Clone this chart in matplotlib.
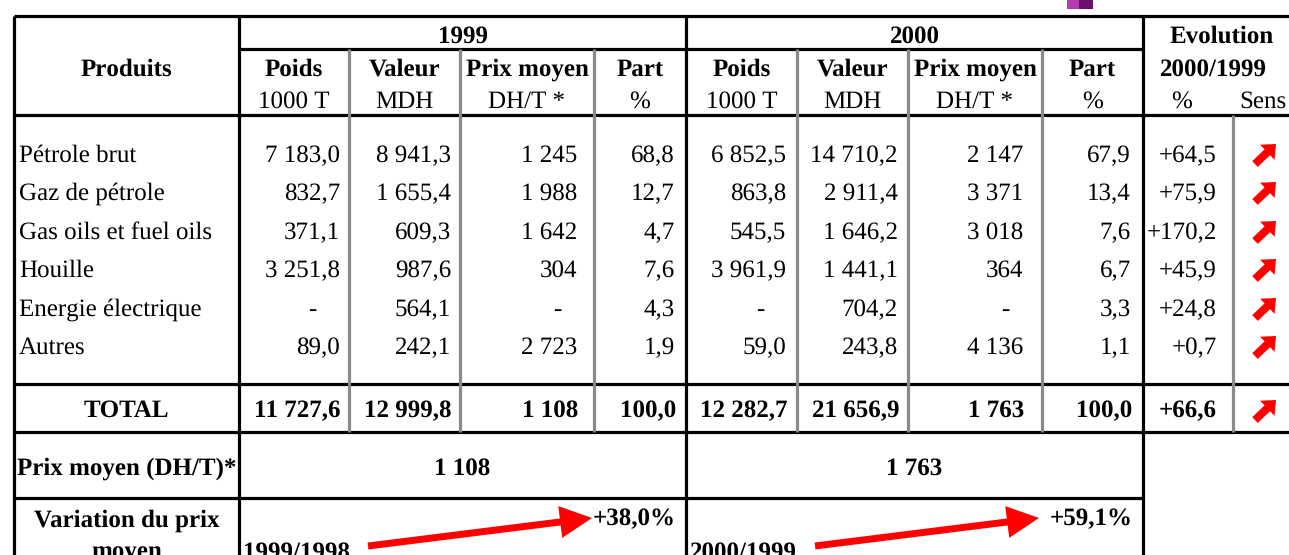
import matplotlib.pyplot as plt
from matplotlib.patches import FancyArrow, Rectangle

plt.rcParams['font.family'] = ['Liberation Serif', 'DejaVu Serif']
plt.rcParams['text.hinting'] = 'no_hinting'
plt.rcParams['text.hinting_factor'] = 1

# donnees du tableau
produits = ['Pétrole brut', 'Gaz de pétrole', 'Gas oils et fuel oils', 'Houille',
            'Energie électrique', 'Autres']
poids_1999 = [7183.0, 832.7, 371.1, 3251.8, None, 89.0]
valeur_1999 = [8941.3, 1655.4, 609.3, 987.6, 564.1, 242.1]
prix_1999 = [1245, 1988, 1642, 304, None, 2723]
part_1999 = [68.8, 12.7, 4.7, 7.6, 4.3, 1.9]
poids_2000 = [6852.5, 863.8, 545.5, 3961.9, None, 59.0]
valeur_2000 = [14710.2, 2911.4, 1646.2, 1441.1, 704.2, 243.8]
prix_2000 = [2147, 3371, 3018, 364, None, 4136]
part_2000 = [67.9, 13.4, 7.6, 6.7, 3.3, 1.1]
evolution = [64.5, 75.9, 170.2, 45.9, 24.8, 0.7]

total_1999 = [11727.6, 12999.8, 1108, 100.0]
total_2000 = [12282.7, 21656.9, 1763, 100.0]
total_evolution = 66.6

annees = ['1999', '2000']
sous_titres = ['Poids', 'Valeur', 'Prix moyen', 'Part']
unites = ['1000 T', 'MDH', 'DH/T *', '%']
prix_moyen = [1108, 1763]
variation_prix = [38.0, 59.1]
periodes = ['1999/1998', '2000/1999']


def fmt(v, dec):
    if v is None:
        return '-'
    s = f'{v:,.{dec}f}'
    return s.replace(',', ' ').replace('.', ',')


fig = plt.figure(figsize=(12.89, 5.55), dpi=100)
ax = fig.add_axes([0, 0, 1, 1])
ax.set_xlim(0, 1289)
ax.set_ylim(555, 0)
ax.axis('off')

FS = 18
NOIR = dict(color='black', lw=2.3, solid_capstyle='butt')
GRIS = dict(color='#8a8a8a', lw=2.3, solid_capstyle='butt')

# limites des colonnes (pixels)
xs = [239, 349, 460, 594, 686, 797, 908, 1042, 1143]
x_left, x_sens, x_right = 14, 1233, 1300
y_top, y_an, y_head, y_tot, y_tot2, y_pm = 16, 49, 115, 384, 432, 498

# traits horizontaux
ax.plot([x_left, x_right], [y_top, y_top], **NOIR)
ax.plot([xs[0], xs[-1]], [y_an, y_an], **NOIR)
ax.plot([x_left, x_right], [y_head, y_head], **NOIR)
ax.plot([x_left, x_right], [y_tot, y_tot], **NOIR)
ax.plot([x_left, x_right], [y_tot2, y_tot2], **NOIR)
ax.plot([x_left, xs[-1]], [y_pm, y_pm], **NOIR)

# traits verticaux
for x in [x_left, xs[0], xs[4], xs[8]]:
    ax.plot([x, x], [y_top, 560], **NOIR)
for x in [xs[1], xs[2], xs[3], xs[5], xs[6], xs[7]]:
    ax.plot([x, x], [y_an, y_tot2], **GRIS)
ax.plot([x_sens, x_sens], [y_head, y_tot2], **GRIS)

# petit motif violet en haut
ax.add_patch(Rectangle((1067, 0), 12, 9, color='#b03cb0', lw=0))
ax.add_patch(Rectangle((1079, 0), 14, 9, color='#6e0e6e', lw=0))

# en-tetes
ax.text(126.5, 76, 'Produits', ha='center', va='baseline', fontsize=FS, fontweight='bold')
for k, an in enumerate(annees):
    x0, x1 = xs[4 * k], xs[4 * k + 4]
    ax.text((x0 + x1) / 2, 43, an, ha='center', va='baseline', fontsize=FS, fontweight='bold')
    for j in range(4):
        c = (xs[4 * k + j] + xs[4 * k + j + 1]) / 2
        ax.text(c, 76, sous_titres[j], ha='center', va='baseline', fontsize=FS, fontweight='bold')
        ax.text(c, 108, unites[j], ha='center', va='baseline', fontsize=FS)
ax.text(1222, 43, 'Evolution', ha='center', va='baseline', fontsize=FS, fontweight='bold')
ax.text(1213, 76, '2000/1999', ha='center', va='baseline', fontsize=FS, fontweight='bold')
ax.text(1182, 108, '%', ha='center', va='baseline', fontsize=FS)
ax.text(1287, 108, 'Sens', ha='right', va='baseline', fontsize=FS)

# corps du tableau
colonnes = [(poids_1999, 1), (valeur_1999, 1), (prix_1999, 0), (part_1999, 1),
            (poids_2000, 1), (valeur_2000, 1), (prix_2000, 0), (part_2000, 1)]
x_num = [340, 451, 577, 675, 786, 898, 1023, 1131]


def fleche_sens(yc):
    # fleche rouge "hausse"
    ax.add_patch(FancyArrow(1255, yc + 10, 21, -20, width=8, head_width=21,
                            head_length=12, length_includes_head=True,
                            color='#ff0000', lw=0))


for i, nom in enumerate(produits):
    yb = round(162 + i * 38.4)
    ax.text(19, yb, nom, ha='left', va='baseline', fontsize=FS)
    for j, (serie, dec) in enumerate(colonnes):
        v = serie[i]
        if v is None:
            ax.text(xs[j + 1] - 37, yb, '-', ha='center', va='baseline', fontsize=FS)
        else:
            ax.text(x_num[j], yb, fmt(v, dec), ha='right', va='baseline', fontsize=FS)
    ax.text(1217, yb, '+' + fmt(evolution[i], 1), ha='right', va='baseline', fontsize=FS)
    fleche_sens(yb - 8)

# ligne total
yb = 417
ax.text(126.5, yb, 'TOTAL', ha='center', va='baseline', fontsize=FS, fontweight='bold')
for j, v in enumerate(total_1999 + total_2000):
    dec = 0 if j % 4 == 2 else 1
    ax.text(x_num[j] + 1, yb, fmt(v, dec), ha='right', va='baseline', fontsize=FS,
            fontweight='bold')
ax.text(1188, yb, '+' + fmt(total_evolution, 1), ha='center', va='baseline', fontsize=FS,
        fontweight='bold')
fleche_sens(yb - 7)

# prix moyen
ax.text(126.5, 475, 'Prix moyen (DH/T)*', ha='center', va='baseline', fontsize=FS,
        fontweight='bold')
for k, v in enumerate(prix_moyen):
    c = (xs[4 * k] + xs[4 * k + 4]) / 2
    ax.text(c, 475, fmt(v, 0), ha='center', va='baseline', fontsize=FS, fontweight='bold')

# variation du prix moyen
ax.text(126.5, 527, 'Variation du prix', ha='center', va='baseline', fontsize=FS,
        fontweight='bold')
ax.text(126.5, 559, 'moyen', ha='center', va='baseline', fontsize=FS, fontweight='bold')
for k, v in enumerate(variation_prix):
    x0, x1 = xs[4 * k], xs[4 * k + 4]
    ax.text(x0 + 4, 559, periodes[k], ha='left', va='baseline', fontsize=FS,
            fontweight='bold')
    ax.text(x1 - 10, 525, '+' + fmt(v, 1) + '%', ha='right', va='baseline', fontsize=FS,
            fontweight='bold')
    ax.add_patch(FancyArrow(x0 + 129, 546, 224, -28, width=7, head_width=32,
                            head_length=32, length_includes_head=True,
                            color='#ff0000', lw=0))

fig.savefig('out.png', dpi=100)
